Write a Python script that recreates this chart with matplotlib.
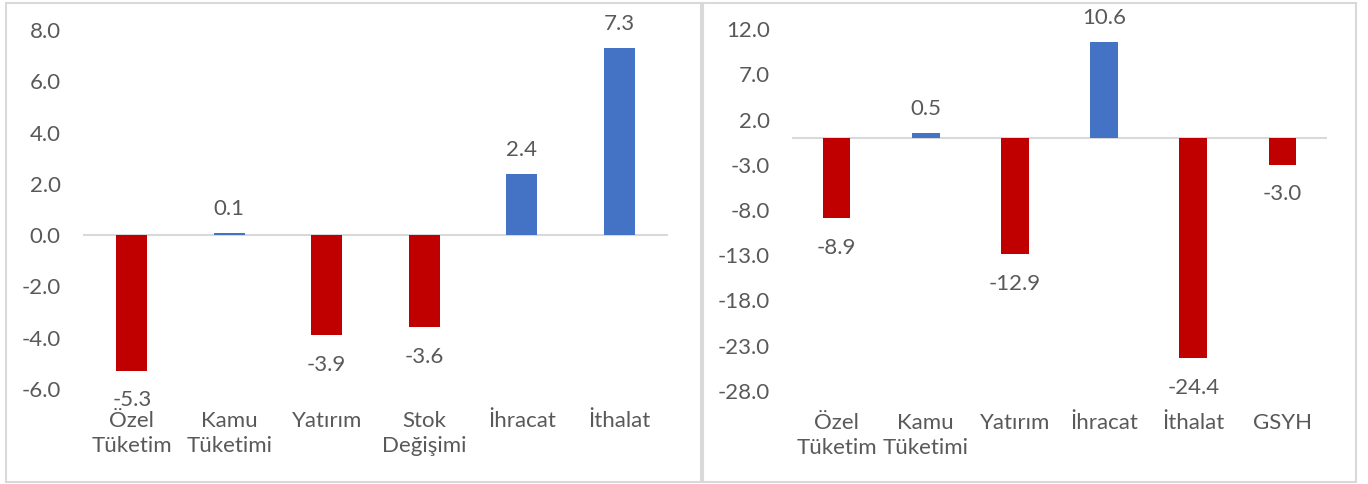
import matplotlib
matplotlib.use("Agg")
import matplotlib.pyplot as plt
from matplotlib.patches import Rectangle
import numpy as np

plt.rcParams['font.family'] = ['Lato', 'DejaVu Sans']

left_categories = ["Özel\nTüketim", "Kamu\nTüketimi", "Yatırım", "Stok\nDeğişimi", "İhracat", "İthalat"]
left_values = [-5.3, 0.1, -3.9, -3.6, 2.4, 7.3]
left_ticks = [-6.0, -4.0, -2.0, 0.0, 2.0, 4.0, 6.0, 8.0]

right_categories = ["Özel\nTüketim", "Kamu\nTüketimi", "Yatırım", "İhracat", "İthalat", "GSYH"]
right_values = [-8.9, 0.5, -12.9, 10.6, -24.4, -3.0]
right_ticks = [-28.0, -23.0, -18.0, -13.0, -8.0, -3.0, 2.0, 7.0, 12.0]

RED = "#C00000"
BLUE = "#4472C4"
TXT = "#595959"
GRID = "#D9D9D9"
FS = 16

W, H = 1368, 484
fig = plt.figure(figsize=(W / 100, H / 100), dpi=100)

def px_axes(x0, x1, ytop, ybot):
    return fig.add_axes([x0 / W, 1 - ybot / H, (x1 - x0) / W, (ybot - ytop) / H])

def draw(ax, cats, vals, ticks, width):
    x = np.arange(len(cats))
    colors = [RED if v < 0 else BLUE for v in vals]
    ax.bar(x, vals, width=width, color=colors, zorder=2)
    ax.axhline(0, color=GRID, lw=1.5, zorder=1)
    ax.set_xlim(-0.5, len(cats) - 0.5)
    ax.set_ylim(ticks[0], ticks[-1])
    ax.set_yticks(ticks)
    ax.set_yticklabels([f"{t:.1f}" for t in ticks])
    ax.set_xticks(x)
    ax.set_xticklabels(cats, linespacing=1.3)
    ax.tick_params(axis='both', length=0, labelsize=FS, labelcolor=TXT)
    ax.tick_params(axis='y', pad=16)
    ax.tick_params(axis='x', pad=16)
    for s in ax.spines.values():
        s.set_visible(False)
    ax.patch.set_alpha(0)
    for xi, v in zip(x, vals):
        if v < 0:
            ax.annotate(f"{v:.1f}", (xi, v), xytext=(0, -14), textcoords='offset points',
                        ha='center', va='top', fontsize=FS, color=TXT)
        else:
            ax.annotate(f"{v:.1f}", (xi, v), xytext=(0, 10), textcoords='offset points',
                        ha='center', va='bottom', fontsize=FS, color=TXT)

# panel borders
fig.patches.append(Rectangle((6 / W, 2 / H), (701 - 6) / W, (481 - 2) / H, transform=fig.transFigure,
                             fill=False, edgecolor=GRID, lw=1.5))
fig.patches.append(Rectangle((703 / W, 2 / H), (1356 - 703) / W, (481 - 2) / H, transform=fig.transFigure,
                             fill=False, edgecolor=GRID, lw=1.5))

ax1 = px_axes(83, 668, 30, 389)
draw(ax1, left_categories, left_values, left_ticks, 0.32)

ax2 = px_axes(792, 1327, 29, 391)
draw(ax2, right_categories, right_values, right_ticks, 0.31)

fig.savefig("out.png", dpi=100)
